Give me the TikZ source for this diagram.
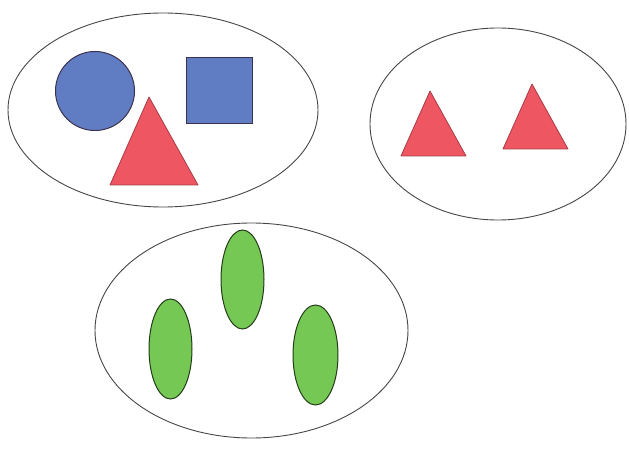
\documentclass[tikz,border=0pt]{standalone}
\definecolor{setline}{RGB}{70,70,70}
\definecolor{bluefill}{RGB}{96,125,196}
\definecolor{redfill}{RGB}{238,86,98}
\definecolor{greenfill}{RGB}{118,200,84}
\definecolor{shapeline}{RGB}{60,50,80}
\begin{document}
\begin{tikzpicture}[x=1pt,y=-1pt,
  setoutline/.style={draw=setline,line width=0.9pt},
  bluebox/.style={fill=bluefill,draw=shapeline,line width=1pt},
  redtri/.style={fill=redfill,draw=redfill!70!black,line width=0.8pt,line join=round},
  greenoval/.style={fill=greenfill,draw=black!70!greenfill,line width=1pt}]
\useasboundingbox (0,0) rectangle (629,449);
% sets
\draw[setoutline] (163,110) ellipse [x radius=155,y radius=97];
\draw[setoutline] (498,124) ellipse [x radius=128,y radius=96];
\draw[setoutline] (251.5,330.5) ellipse [x radius=156.5,y radius=107.5];
% first set
\draw[bluebox] (95,91) circle [radius=39.5];
\draw[bluebox] (186,58) rectangle (252,124);
\draw[redtri] (149,97) -- (198,185) -- (110,185) -- cycle;
% second set
\draw[redtri] (430,91) -- (466,156) -- (401,156) -- cycle;
\draw[redtri] (532,84) -- (568,149) -- (503,149) -- cycle;
% third set
\draw[greenoval] (242.5,279.5) ellipse [x radius=21.5,y radius=49.5];
\draw[greenoval] (170.5,349) ellipse [x radius=21.5,y radius=50];
\draw[greenoval] (315.5,355) ellipse [x radius=22.5,y radius=50];
\end{tikzpicture}
\end{document}
